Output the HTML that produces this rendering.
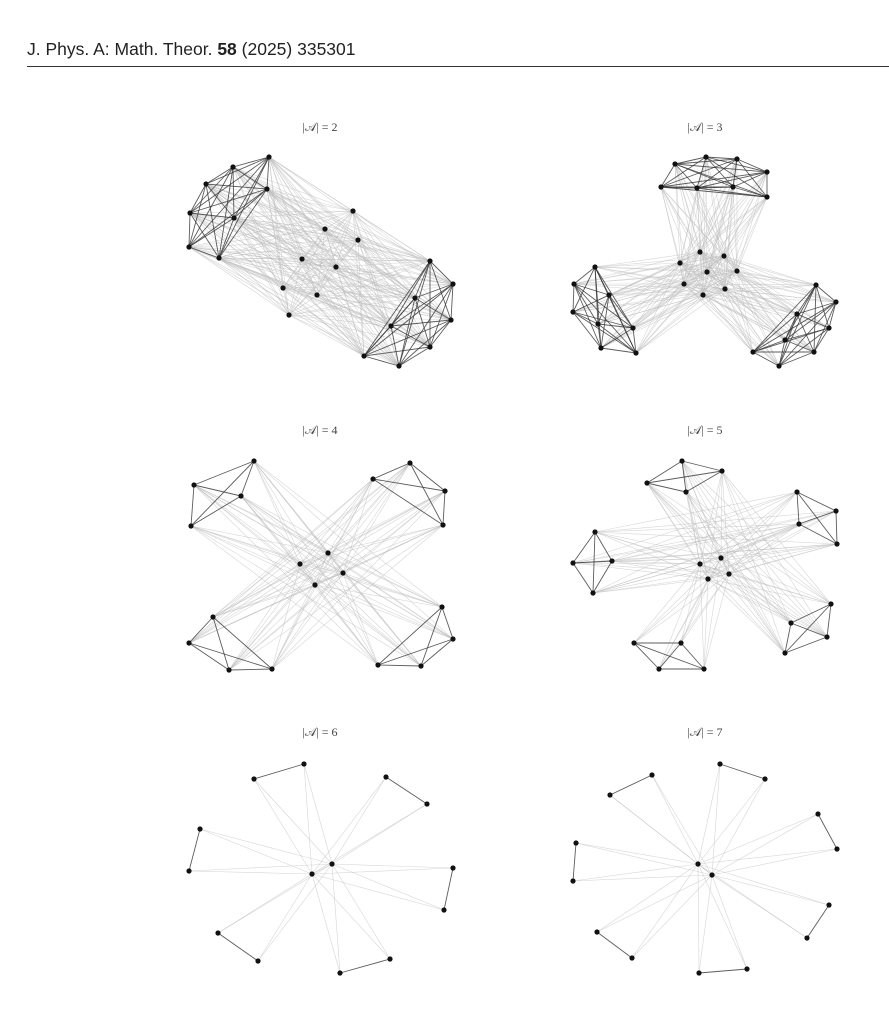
<!DOCTYPE html>
<html><head><meta charset="utf-8"><style>
html,body{margin:0;padding:0;background:#fff;width:889px;height:1023px;overflow:hidden}
#hdr{position:absolute;left:27px;top:39px;font:17.5px "Liberation Sans",sans-serif;color:#222;white-space:nowrap}
#rule{position:absolute;left:27px;top:66px;width:862px;height:1px;background:#333}
svg{position:absolute;left:0;top:0}
</style></head><body>
<div id="hdr">J. Phys. A: Math. Theor. <b>58</b> (2025) 335301</div>
<div id="rule"></div>
<svg id="s" width="889" height="1023" xmlns="http://www.w3.org/2000/svg">
<g font-family="Liberation Serif, serif" font-size="12" fill="#444" text-anchor="middle">
<text x="320" y="131">|𝒜| = 2</text>
<text x="705" y="131">|𝒜| = 3</text>
<text x="320" y="434">|𝒜| = 4</text>
<text x="705" y="434">|𝒜| = 5</text>
<text x="320" y="736">|𝒜| = 6</text>
<text x="705" y="736">|𝒜| = 7</text>
</g>
<g id="light" stroke="#bbb" stroke-width="0.6" stroke-opacity="0.6"></g>
<g id="dark" stroke="#333" stroke-width="0.9" stroke-opacity="0.8"></g>
<g id="nodes" fill="#111"></g>
</svg>
<script>
var NS="http://www.w3.org/2000/svg";
var L=document.getElementById('light'),D=document.getElementById('dark'),N=document.getElementById('nodes');
function ln(g,a,b){var e=document.createElementNS(NS,'line');e.setAttribute('x1',a[0]);e.setAttribute('y1',a[1]);e.setAttribute('x2',b[0]);e.setAttribute('y2',b[1]);g.appendChild(e);}
function nd(p){var c=document.createElementNS(NS,'circle');c.setAttribute('cx',p[0]);c.setAttribute('cy',p[1]);c.setAttribute('r',2.6);N.appendChild(c);}
function clique(c){for(var i=0;i<c.length;i++)for(var j=i+1;j<c.length;j++)ln(D,c[i],c[j]);}
function between(a,b){for(var i=0;i<a.length;i++)for(var j=0;j<b.length;j++)ln(L,a[i],b[j]);}
function panel(clusters,center,cenLinks,extraPairs){
  clusters.forEach(clique);
  clusters.forEach(function(c){between(c,center);});
  for(var i=0;i<center.length;i++)for(var j=i+1;j<center.length;j++)ln(L,center[i],center[j]);
  (extraPairs||[]).forEach(function(p){between(clusters[p[0]],clusters[p[1]]);});
  clusters.forEach(function(c){c.forEach(nd);});center.forEach(nd);
}
var p1L=[[269,157],[233,167],[206,184],[267,189],[190,213],[234,218],[189,247],[219,258]];
var p1M=[[353,211],[325,229],[358,240],[302,259],[336,267],[283,288],[317,295],[289,315]];
var p1R=[[430,261],[453,284],[415,298],[451,320],[391,326],[430,347],[364,356],[399,366]];
panel([p1L,p1R],p1M,0,[[0,1]]);
var p2T=[[706,157],[737,159],[675,164],[767,172],[661,187],[697,188],[733,187],[767,197]];
var p2M=[[700,252],[724,256],[680,263],[707,272],[737,271],[684,284],[725,289],[703,295]];
var p2L=[[595,267],[574,284],[609,295],[573,312],[598,324],[633,328],[601,348],[636,353]];
var p2R=[[816,285],[836,302],[797,314],[829,328],[785,340],[753,352],[814,352],[779,366]];
panel([p2T,p2L,p2R],p2M,0,[]);
var p3=[[[254,461],[194,485],[241,496],[191,526]],[[410,463],[373,479],[445,491],[443,525]],
[[442,607],[453,639],[378,665],[421,666]],[[213,617],[189,643],[229,670],[272,669]]];
var p3c=[[328,553],[300,564],[343,573],[315,585]];
panel(p3,p3c,0,[[0,2],[1,3]]);
var p4=[[[682,461],[722,471],[647,483],[686,492]],[[797,492],[836,511],[799,524],[837,544]],
[[831,604],[791,623],[827,637],[785,653]],[[634,643],[681,643],[659,669],[704,669]],
[[595,532],[612,561],[573,563],[593,593]]];
var p4c=[[721,558],[700,564],[729,574],[708,579]];
panel(p4,p4c,0,[[0,2],[1,4]]);
var p5=[[[254,779],[304,764]],[[386,777],[427,804]],[[453,868],[444,910]],[[390,959],[340,973]],[[258,961],[218,933]],[[189,871],[200,829]]];
panel(p5,[[332,864],[312,874]],0,[]);
var p6=[[[610,795],[652,775]],[[720,764],[765,779]],[[818,814],[837,849]],[[829,905],[807,938]],[[747,969],[699,973]],[[632,958],[597,932]],[[573,881],[576,843]]];
panel(p6,[[698,864],[712,875]],0,[]);
</script>
</body></html>
